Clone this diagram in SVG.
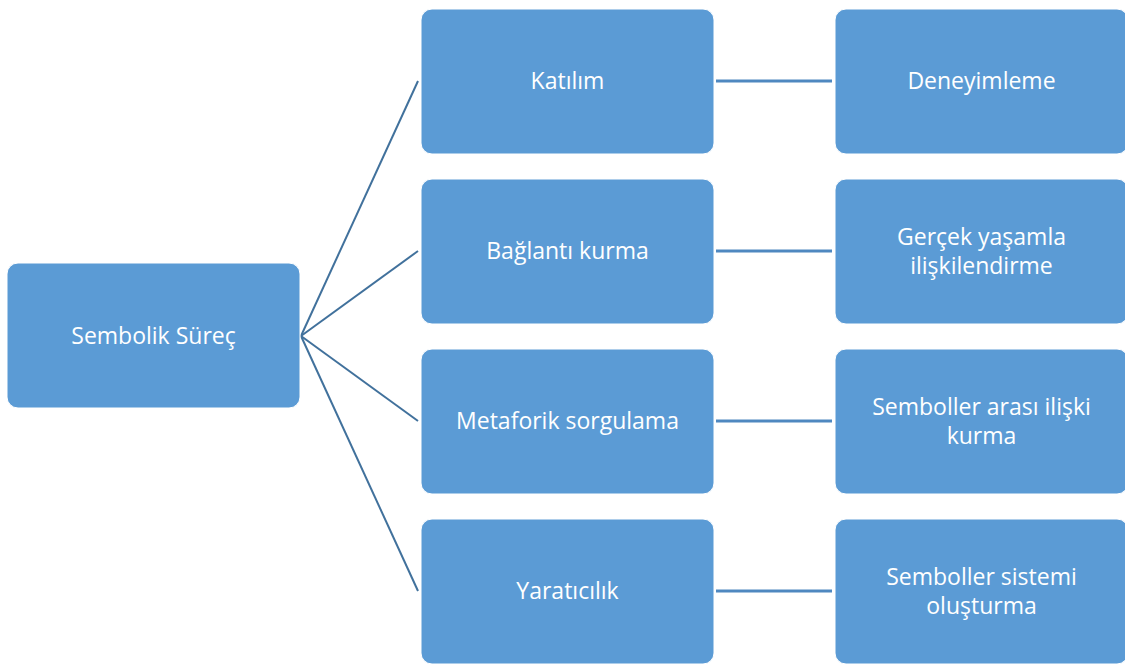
<svg xmlns="http://www.w3.org/2000/svg" width="1125" height="664" viewBox="0 0 1125 664">
  <style>
    .box { fill: #5B9BD5; stroke: #FFFFFF; stroke-width: 1; }
    .lbl { font-family: "Open Sans", "Liberation Sans", sans-serif; font-size: 23px; fill: #FFFFFF; text-anchor: middle; }
    .fan { stroke: #41719C; stroke-width: 2; fill: none; }
    .link { stroke: #4F88C0; stroke-width: 3; fill: none; }
  </style>
  <rect width="1125" height="664" fill="#FFFFFF"/>

  <g id="connectors">
    <line class="fan" x1="301" y1="336" x2="418" y2="81"/>
    <line class="fan" x1="301" y1="336" x2="418" y2="251"/>
    <line class="fan" x1="301" y1="336" x2="418" y2="421"/>
    <line class="fan" x1="301" y1="336" x2="418" y2="591"/>
    <line class="link" x1="716" y1="81" x2="832" y2="81"/>
    <line class="link" x1="716" y1="251" x2="832" y2="251"/>
    <line class="link" x1="716" y1="421" x2="832" y2="421"/>
    <line class="link" x1="716" y1="591" x2="832" y2="591"/>
  </g>

  <g id="sembolik-surec">
    <rect class="box" x="7" y="263" width="293" height="145" rx="11"/>
    <text class="lbl" x="153.5" y="344">Sembolik Süreç</text>
  </g>

  <g id="katilim">
    <rect class="box" x="421" y="9" width="293" height="145" rx="11"/>
    <text class="lbl" x="567.5" y="89">Katılım</text>
  </g>
  <g id="baglanti-kurma">
    <rect class="box" x="421" y="179" width="293" height="145" rx="11"/>
    <text class="lbl" x="567.5" y="259">Bağlantı kurma</text>
  </g>
  <g id="metaforik-sorgulama">
    <rect class="box" x="421" y="349" width="293" height="145" rx="11"/>
    <text class="lbl" x="567.5" y="429">Metaforik sorgulama</text>
  </g>
  <g id="yaraticilik">
    <rect class="box" x="421" y="519" width="293" height="145" rx="11"/>
    <text class="lbl" x="567.5" y="599">Yaratıcılık</text>
  </g>

  <g id="deneyimleme">
    <rect class="box" x="835" y="9" width="293" height="145" rx="11"/>
    <text class="lbl" x="981.5" y="89">Deneyimleme</text>
  </g>
  <g id="gercek-yasamla">
    <rect class="box" x="835" y="179" width="293" height="145" rx="11"/>
    <text class="lbl" x="981.5" y="245">Gerçek yaşamla</text>
    <text class="lbl" x="981.5" y="274">ilişkilendirme</text>
  </g>
  <g id="semboller-arasi">
    <rect class="box" x="835" y="349" width="293" height="145" rx="11"/>
    <text class="lbl" x="981.5" y="415">Semboller arası ilişki</text>
    <text class="lbl" x="981.5" y="444">kurma</text>
  </g>
  <g id="semboller-sistemi">
    <rect class="box" x="835" y="519" width="293" height="145" rx="11"/>
    <text class="lbl" x="981.5" y="585">Semboller sistemi</text>
    <text class="lbl" x="981.5" y="614">oluşturma</text>
  </g>
</svg>
